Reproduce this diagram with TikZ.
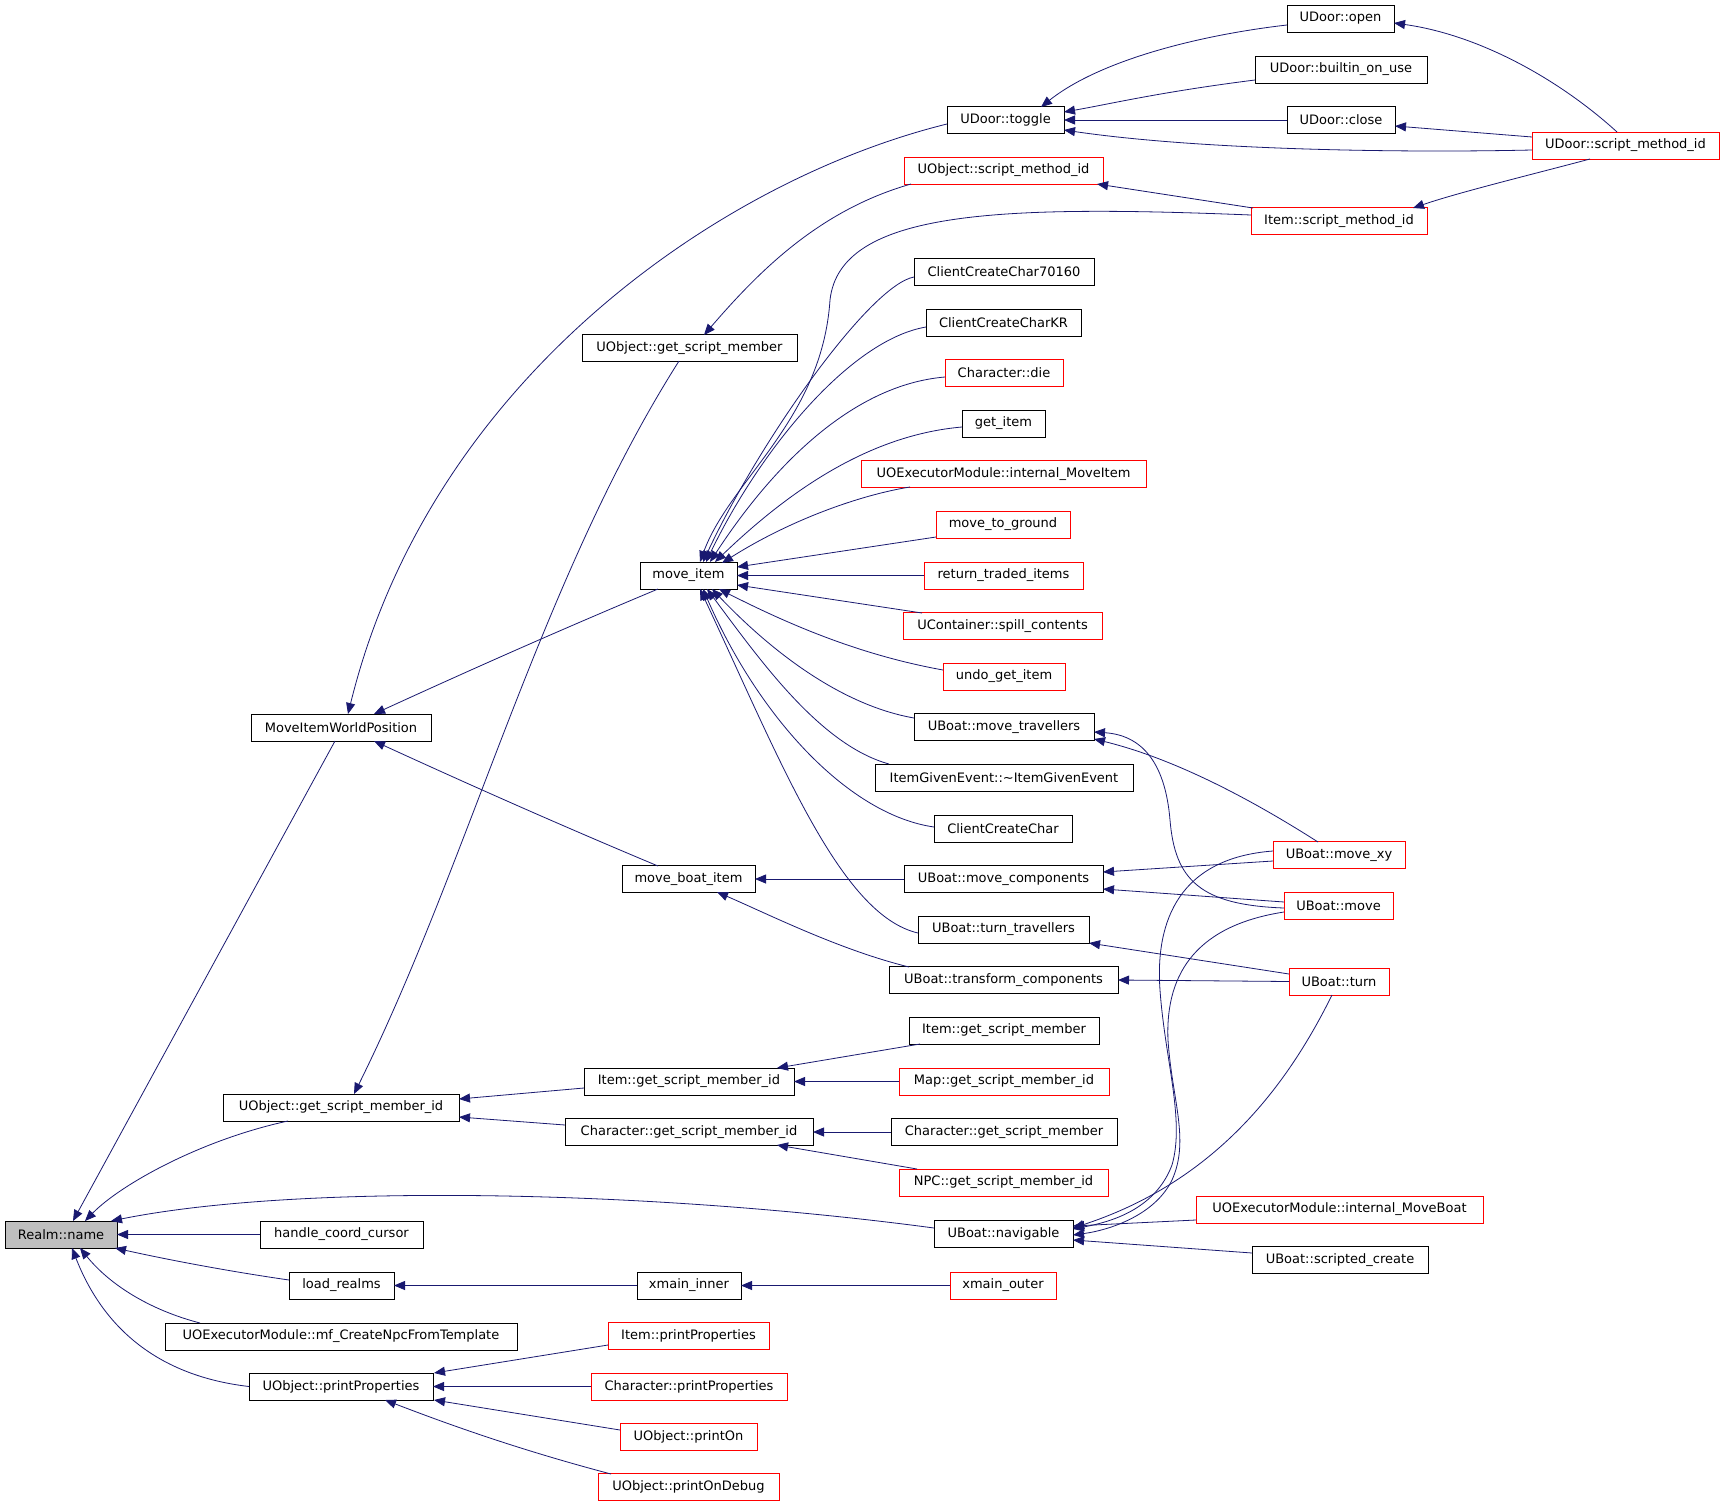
\documentclass[tikz,border=0pt]{standalone}
\usepackage{fontspec}
\setmainfont{DejaVu Sans}
\usetikzlibrary{arrows.meta,calc}
\definecolor{mb}{RGB}{25,25,112}
\definecolor{gr}{RGB}{191,191,191}
\begin{document}
\begin{tikzpicture}[x=1pt,y=-1pt,
  box/.style={draw=black, line width=1pt, minimum height=27pt, inner sep=0pt, outer sep=0pt, font=\fontsize{13}{15}\selectfont},
  rbox/.style={box, draw=red},
  cedge/.style={draw=mb, line width=0.8pt, -{Triangle[length=11pt,width=9pt]}, fill=none}]
\fill[white] (0,0) rectangle (1725,1507);
\useasboundingbox (0,0) rectangle (1725,1507);
% column 0
\node[box, fill=gr, minimum width=112pt] (R) at (61,1234.5) {Realm::name};
% column 1
\node[box, minimum width=180pt] (miwp) at (341,727.5) {MoveItemWorldPosition};
\node[box, minimum width=236pt] (ogsmi) at (341,1107.5) {UObject::get\_script\_member\_id};
\node[box, minimum width=163pt] (hcc) at (341.5,1234.5) {handle\_coord\_cursor};
\node[box, minimum width=105pt] (lr) at (341.5,1285.5) {load\_realms};
\node[box, minimum width=352pt] (mfc) at (341,1336.5) {UOExecutorModule::mf\_CreateNpcFromTemplate};
\node[box, minimum width=184pt] (opp) at (341,1386.5) {UObject::printProperties};
% column 2
\node[box, minimum width=215pt] (ogsm) at (689.5,348) {UObject::get\_script\_member};
\node[box, minimum width=97pt] (mi) at (688.5,575.5) {move\_item};
\node[box, minimum width=133pt] (mbi) at (688.5,879) {move\_boat\_item};
\node[box, minimum width=210pt] (igsmi) at (689,1081.5) {Item::get\_script\_member\_id};
\node[box, minimum width=248pt] (cgsmi) at (689,1132) {Character::get\_script\_member\_id};
\node[box, minimum width=104pt] (xi) at (689,1285.5) {xmain\_inner};
\node[rbox, minimum width=161pt] (ipp) at (688.5,1335.5) {Item::printProperties};
\node[rbox, minimum width=196pt] (cpp) at (689,1386.5) {Character::printProperties};
\node[rbox, minimum width=137pt] (pon) at (688.5,1436.5) {UObject::printOn};
\node[rbox, minimum width=181pt] (pod) at (688.5,1487) {UObject::printOnDebug};
% column 3
\node[box, minimum width=117pt] (toggle) at (1005.5,120) {UDoor::toggle};
\node[rbox, minimum width=199pt] (osm) at (1003.5,170.5) {UObject::script\_method\_id};
\node[box, minimum width=180pt] (c70) at (1004,271.5) {ClientCreateChar70160};
\node[box, minimum width=155pt] (ckr) at (1003.5,322.5) {ClientCreateCharKR};
\node[rbox, minimum width=118pt] (die) at (1004,373) {Character::die};
\node[box, minimum width=83pt] (gi) at (1003.5,423.5) {get\_item};
\node[rbox, minimum width=285pt] (imi) at (1003.5,474) {UOExecutorModule::internal\_MoveItem};
\node[rbox, minimum width=134pt] (mtg) at (1003,524.5) {move\_to\_ground};
\node[rbox, minimum width=159pt] (rti) at (1003.5,575.5) {return\_traded\_items};
\node[rbox, minimum width=199pt] (usc) at (1002.5,626) {UContainer::spill\_contents};
\node[rbox, minimum width=122pt] (ugi) at (1004,676.5) {undo\_get\_item};
\node[box, minimum width=180pt] (mt) at (1004,727) {UBoat::move\_travellers};
\node[box, minimum width=258pt] (ige) at (1004,777.5) {ItemGivenEvent::\textasciitilde ItemGivenEvent};
\node[box, minimum width=138pt] (ccc) at (1003,828.5) {ClientCreateChar};
\node[box, minimum width=199pt] (mc) at (1003.5,879) {UBoat::move\_components};
\node[box, minimum width=171pt] (tt) at (1003.5,929.5) {UBoat::turn\_travellers};
\node[box, minimum width=229pt] (tc) at (1003.5,980) {UBoat::transform\_components};
\node[box, minimum width=190pt] (igsm) at (1004,1030.5) {Item::get\_script\_member};
\node[rbox, minimum width=210pt] (mgsmi) at (1004,1081.5) {Map::get\_script\_member\_id};
\node[box, minimum width=226pt] (cgsm) at (1004,1132) {Character::get\_script\_member};
\node[rbox, minimum width=209pt] (npc) at (1003.5,1182.5) {NPC::get\_script\_member\_id};
\node[box, minimum width=139pt] (nav) at (1003.5,1234) {UBoat::navigable};
\node[rbox, minimum width=106pt] (xo) at (1003,1285.5) {xmain\_outer};
% column 4
\node[box, minimum width=107pt] (open) at (1340.5,18.5) {UDoor::open};
\node[box, minimum width=172pt] (bou) at (1341,69.5) {UDoor::builtin\_on\_use};
\node[box, minimum width=108pt] (close) at (1341,120) {UDoor::close};
\node[rbox, minimum width=176pt] (ism) at (1339,221) {Item::script\_method\_id};
\node[rbox, minimum width=132pt] (mxy) at (1339,855) {UBoat::move\_xy};
\node[rbox, minimum width=109pt] (mv) at (1338.5,906) {UBoat::move};
\node[rbox, minimum width=100pt] (turn) at (1339,981.5) {UBoat::turn};
\node[rbox, minimum width=287pt] (imb) at (1339.5,1209.5) {UOExecutorModule::internal\_MoveBoat};
\node[box, minimum width=176pt] (sc) at (1340,1260) {UBoat::scripted\_create};
% column 5
\node[rbox, minimum width=187pt] (dsmi) at (1625.5,145.5) {UDoor::script\_method\_id};

% edges into Realm::name
\draw[cedge] ($(miwp)+(-6,13.5)$) -- ($(R)+(12,-13.5)$);
\draw[cedge] ($(ogsmi)+(-53,13.5)$) .. controls (200,1140) and (120,1185) .. ($(R)+(24,-13.5)$);
\draw[cedge] ($(nav)+(-69.5,-6)$) .. controls (650,1190) and (300,1183) .. ($(R)+(50,-13.5)$);
\draw[cedge] (hcc.west) -- (R.east);
\draw[cedge] ($(lr)+(-52.5,-5.5)$) .. controls (220,1270) and (160,1258) .. ($(R)+(54,13.5)$);
\draw[cedge] ($(mfc)+(-141,-13.5)$) .. controls (150,1310) and (110,1285) .. ($(R)+(19,13.5)$);
\draw[cedge] (opp.west) .. controls (150,1375) and (100,1320) .. ($(R)+(11,13.5)$);
% into MoveItemWorldPosition
\draw[cedge] ($(toggle)+(-58.5,4)$) .. controls (720,180) and (430,380) .. ($(miwp)+(7,-13.5)$);
\draw[cedge] ($(mi)+(-30.5,13.5)$) .. controls (560,630) and (470,670) .. ($(miwp)+(33,-13.5)$);
\draw[cedge] ($(mbi)+(-30.5,-13)$) .. controls (560,825) and (470,785) .. ($(miwp)+(33,13.5)$);
% into UObject::get_script_member_id
\draw[cedge] ($(ogsm)+(-10.5,13)$) .. controls (540,580) and (470,860) .. ($(ogsmi)+(13,-13.5)$);
\draw[cedge] ($(igsmi)+(-105,6.5)$) -- ($(ogsmi)+(118,-8.5)$);
\draw[cedge] ($(cgsmi)+(-124,-7)$) -- ($(ogsmi)+(118,9.5)$);
% into UDoor::toggle
\draw[cedge] ($(open)+(-53.5,6.5)$) .. controls (1200,35) and (1100,60) .. ($(toggle)+(35.5,-13)$);
\draw[cedge] ($(bou)+(-86,10.5)$) .. controls (1160,92) and (1110,104) .. ($(toggle)+(58.5,-8)$);
\draw[cedge] (close.west) -- (toggle.east);
\draw[cedge] ($(dsmi)+(-93.5,4.5)$) .. controls (1400,153) and (1200,150) .. ($(toggle)+(58.5,10)$);
% UDoor::script_method_id others
\draw[cedge] ($(dsmi)+(-8.5,-13.5)$) .. controls (1560,80) and (1480,35) .. ($(open)+(53.5,4.5)$);
\draw[cedge] ($(dsmi)+(-93.5,-8.5)$) -- ($(close)+(54,6)$);
\draw[cedge] ($(dsmi)+(-35.5,13.5)$) .. controls (1530,175) and (1460,192) .. ($(ism)+(74,-13)$);
\draw[cedge] ($(ism)+(-86,-13)$) -- ($(osm)+(93.5,13.5)$);
\draw[cedge] ($(osm)+(-92.5,13.5)$) .. controls (820,210) and (760,270) .. ($(ogsm)+(14.5,-13)$);
% into move_item
\draw[cedge] ($(ism)+(-88,-6)$) .. controls (1000,205) and (840,210) .. (830,300) .. controls (822,420) and (730,480) .. ($(mi)+(11.5,-13.5)$);
\draw[cedge] ($(c70)+(-90,5.5)$) .. controls (870,285) and (760,440) .. ($(mi)+(14.5,-13.5)$);
\draw[cedge] ($(ckr)+(-77.5,4.5)$) .. controls (850,340) and (760,450) .. ($(mi)+(17.5,-13.5)$);
\draw[cedge] ($(die)+(-59,4)$) .. controls (850,385) and (770,470) .. ($(mi)+(21.5,-13.5)$);
\draw[cedge] ($(gi)+(-41.5,3.5)$) .. controls (870,435) and (790,490) .. ($(mi)+(26.5,-13.5)$);
\draw[cedge] ($(imi)+(-93.5,13)$) .. controls (860,495) and (790,520) .. ($(mi)+(33.5,-12.5)$);
\draw[cedge] ($(mtg)+(-67,12.5)$) -- ($(mi)+(48.5,-8.5)$);
\draw[cedge] (rti.west) -- (mi.east);
\draw[cedge] ($(usc)+(-80.5,-13)$) -- ($(mi)+(48.5,9.5)$);
\draw[cedge] ($(ugi)+(-61,-6.5)$) .. controls (860,655) and (790,625) .. ($(mi)+(30.5,13.5)$);
\draw[cedge] ($(mt)+(-90,-9)$) .. controls (840,705) and (770,650) .. ($(mi)+(23.5,13.5)$);
\draw[cedge] ($(ige)+(-115,-13.5)$) .. controls (820,745) and (760,660) .. ($(mi)+(18.5,13.5)$);
\draw[cedge] ($(ccc)+(-69,-1.5)$) .. controls (850,815) and (760,720) .. ($(mi)+(14.5,13.5)$);
\draw[cedge] ($(tt)+(-85.5,3.5)$) .. controls (840,915) and (780,760) .. ($(mi)+(11.5,13.5)$);
% into move_boat_item
\draw[cedge] (mc.west) -- (mbi.east);
\draw[cedge] ($(tc)+(-94.5,-13)$) .. controls (840,950) and (770,915) .. ($(mbi)+(28.5,13)$);
% into UBoat::move_travellers
\draw[cedge] ($(mxy)+(-21,-13)$) .. controls (1260,805) and (1180,760) .. ($(mt)+(90,12)$);
\draw[cedge] ($(mv)+(-54.5,2)$) .. controls (1200,905) and (1175,880) .. (1170,820) .. controls (1165,760) and (1140,735) .. ($(mt)+(90,5)$);
% into UBoat::move_components
\draw[cedge] ($(mxy)+(-66,6)$) -- ($(mc)+(99.5,-7)$);
\draw[cedge] ($(mv)+(-54.5,-4)$) -- ($(mc)+(99.5,10)$);
% turn
\draw[cedge] ($(turn)+(-50,-7.5)$) -- ($(tt)+(85.5,13.5)$);
\draw[cedge] (turn.west) -- (tc.east);
% script member
\draw[cedge] ($(igsm)+(-84,13.5)$) -- ($(igsmi)+(88,-13.5)$);
\draw[cedge] (mgsmi.west) -- (igsmi.east);
\draw[cedge] (cgsm.west) -- (cgsmi.east);
\draw[cedge] ($(npc)+(-86.5,-13.5)$) -- ($(cgsmi)+(88,13)$);
% into UBoat::navigable
\draw[cedge] ($(mxy)+(-66,-4)$) .. controls (1180,858) and (1155,920) .. (1160,990) .. controls (1165,1060) and (1185,1120) .. (1172,1165) .. controls (1155,1210) and (1110,1222) .. ($(nav)+(69.5,-5)$);
\draw[cedge] ($(mv)+(-54.5,6)$) .. controls (1200,925) and (1165,970) .. (1168,1040) .. controls (1172,1100) and (1190,1140) .. (1172,1180) .. controls (1155,1215) and (1110,1230) .. ($(nav)+(69.5,1)$);
\draw[cedge] ($(turn)+(-7,13.5)$) .. controls (1290,1080) and (1220,1180) .. ($(nav)+(69.5,-6)$);
\draw[cedge] ($(imb)+(-143.5,10.5)$) -- ($(nav)+(69.5,-8)$);
\draw[cedge] ($(sc)+(-88,-7)$) -- ($(nav)+(69.5,6)$);
% main chain
\draw[cedge] (xi.west) -- (lr.east);
\draw[cedge] (xo.west) -- (xi.east);
% printProperties
\draw[cedge] ($(ipp)+(-80.5,9.5)$) -- ($(opp)+(93,-13.5)$);
\draw[cedge] (cpp.west) -- (opp.east);
\draw[cedge] ($(pon)+(-68.5,-6.5)$) -- ($(opp)+(93,13.5)$);
\draw[cedge] ($(pod)+(-77.5,-13)$) .. controls (520,1450) and (450,1425) .. ($(opp)+(44,13.5)$);
\end{tikzpicture}
\end{document}
